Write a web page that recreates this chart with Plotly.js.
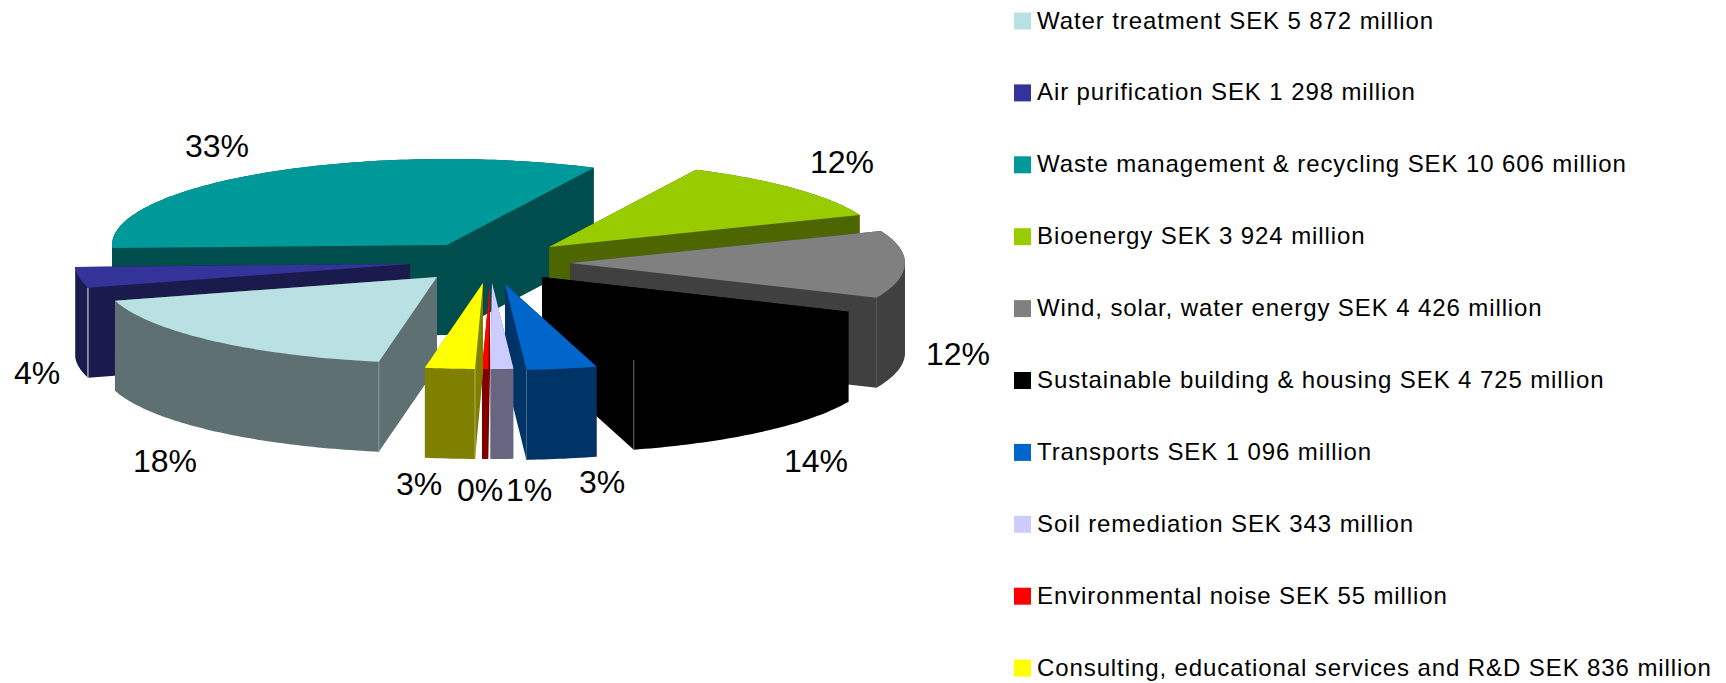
<!DOCTYPE html>
<html><head><meta charset="utf-8">
<script src="https://cdn.plot.ly/plotly-3.0.1.min.js"></script>
<style>html,body{margin:0;padding:0;background:#fff}#c{width:1726px;height:683px}
.scatterlayer .trace:last-child .textpoint text{letter-spacing:0.9px}</style>
</head><body><div id="c"></div>
<script>
// ---- data ----
const categories = ["Water treatment","Air purification","Waste management & recycling","Bioenergy","Wind, solar, water energy","Sustainable building & housing","Transports","Soil remediation","Environmental noise","Consulting, educational services and R&D"];
const legendAmounts = ["SEK 5 872 million","SEK 1 298 million","SEK 10 606 million","SEK 3 924 million","SEK 4 426 million","SEK 4 725 million","SEK 1 096 million","SEK 343 million","SEK 55 million","SEK 836 million"];
const sharePercent = [17.8,3.9,32.8,11.7,12.7,14.0,3.4,1.1,0.3,2.4];
const percentLabels = ["18%","4%","33%","12%","12%","14%","3%","1%","0%","3%"];
// ---- style ----
const topColors = ["#B9E0E3","#333399","#009999","#99CC00","#808080","#000000","#0066CC","#CCCCFF","#FF0000","#FFFF00"];
const sideColors = ["#5E7072","#1A1A4D","#004D4D","#4D6600","#404040","#000000","#003366","#666680","#800000","#808000"];
const seamColors = ["#8A9A9C","#E8E8F0",null,null,"#585858","#707070","#4A6A8A",null,null,"#B0B060"];
const seamAtEnd = [false,false,false,false,true,true,true,false,false,false];
// ---- layout of the exploded 3-D pie ----
const startDeg = 190, RX = 335, RY = 86, DEPTH = 90;
const apexX = [437,410,447,549,570,542,505,492,490,483];
const apexY = [277,264,245,247,263,277,284,283,283,283];
const drawOrder = [2,3,4,1,5,0,6,7,8,9];
const labelX = [165,37,217,842,958,816,602,529,480,419];
const labelY = [464,376,149,165,357,464,485,493,493,487];
const legendTop = 21, legendStep = 71.9, swatchX = 1022.5, textX = 1037, textDrop = 1.5;

const total = sharePercent.reduce((a,b)=>a+b,0);
const traces = [];
const area = q => { let s=0; for(let i=0;i<q.length;i++){const a=q[i],b=q[(i+1)%q.length]; s+=a[0]*b[1]-b[0]*a[1];} return s; };

let cum = 0; const spans = sharePercent.map(v=>{const a=startDeg+cum/total*360; cum+=v; return [a,startDeg+cum/total*360];});

drawOrder.forEach(i=>{
  const [a0,a1] = spans[i], cx=apexX[i], cy=apexY[i];
  const pts=[[cx,cy]];
  const n=Math.max(2,Math.ceil(a1-a0));
  for(let k=0;k<=n;k++){const t=(a0+(a1-a0)*k/n)*Math.PI/180; pts.push([cx+RX*Math.sin(t),cy-RY*Math.cos(t)]);}
  // side walls: a quad per polygon edge, all wound the same way
  const sx=[],sy=[];
  pts.forEach((p,k)=>{
    const q=pts[(k+1)%pts.length];
    let quad=[p,q,[q[0],q[1]+DEPTH],[p[0],p[1]+DEPTH]];
    if(area(quad)<0) quad=quad.reverse();
    quad.forEach(c=>{sx.push(c[0]);sy.push(c[1]);});
    sx.push(null);sy.push(null);
  });
  traces.push({type:"scatter",mode:"lines",x:sx,y:sy,fill:"toself",fillcolor:sideColors[i],line:{width:0,color:sideColors[i],simplify:false},hoverinfo:"skip",showlegend:false});
  // seam at the front corner of the wedge
  if(seamColors[i]){
    const c = seamAtEnd[i] ? pts[pts.length-1] : pts[1];
    traces.push({type:"scatter",mode:"lines",x:[c[0],c[0]],y:[c[1],c[1]+DEPTH],line:{width:1,color:seamColors[i]},hoverinfo:"skip",showlegend:false});
  }
  traces.push({type:"scatter",mode:"lines",x:pts.map(p=>p[0]).concat([pts[0][0]]),y:pts.map(p=>p[1]).concat([pts[0][1]]),fill:"toself",fillcolor:topColors[i],line:{width:0,color:topColors[i],simplify:false},hoverinfo:"skip",showlegend:false});
});

// percent labels
traces.push({type:"scatter",mode:"text",x:labelX,y:labelY,text:percentLabels,textposition:"middle center",textfont:{family:"Liberation Sans, Arial, sans-serif",size:32,color:"#000"},hoverinfo:"skip",showlegend:false,cliponaxis:false});
// legend
const rowY = categories.map((_,i)=>legendTop+legendStep*i);
traces.push({type:"scatter",mode:"markers",x:categories.map(()=>swatchX),y:rowY,marker:{symbol:"square",size:17,color:topColors,line:{width:0}},hoverinfo:"skip",showlegend:false,cliponaxis:false});
traces.push({type:"scatter",mode:"text",x:categories.map(()=>textX),y:rowY.map(v=>v+textDrop),text:categories.map((c,i)=>c+" "+legendAmounts[i]),textposition:"middle right",textfont:{family:"Liberation Sans, Arial, sans-serif",size:24,color:"#000"},hoverinfo:"skip",showlegend:false,cliponaxis:false});

const hidden={visible:false,fixedrange:true,showgrid:false,zeroline:false};
Plotly.newPlot("c",traces,{
  width:1726,height:683,margin:{l:0,r:0,t:0,b:0},paper_bgcolor:"#fff",plot_bgcolor:"#fff",
  xaxis:Object.assign({range:[0,1726]},hidden),
  yaxis:Object.assign({range:[683,0]},hidden),
  showlegend:false,hovermode:false
},{staticPlot:true,displayModeBar:false});
</script></body></html>
